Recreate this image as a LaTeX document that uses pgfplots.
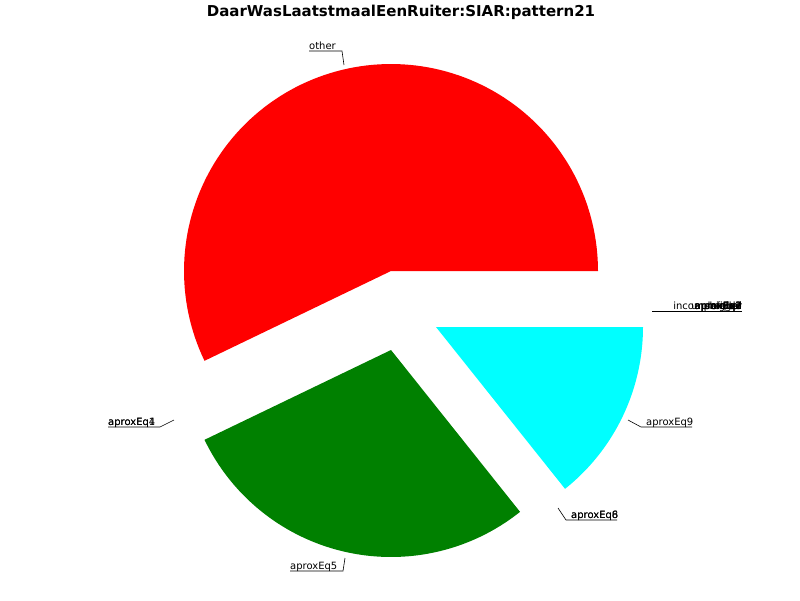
\documentclass[border=0pt]{standalone}
\usepackage{pgfplots}
\pgfplotsset{compat=1.18}
\usepackage{fontspec}
\setmainfont{DejaVu Sans}
\definecolor{pieGreen}{RGB}{0,128,0}
\definecolor{pieCyan}{RGB}{0,255,255}
\begin{document}
\begin{tikzpicture}
% slice values: other, aproxEq5, aproxEq9 (the other labels have zero size)
\def\vA{4}\def\vB{2}\def\vC{1}
\pgfmathsetmacro{\aA}{360*\vA/(\vA+\vB+\vC)}
\pgfmathsetmacro{\aB}{\aA+360*\vB/(\vA+\vB+\vC)}
\begin{axis}[
  width=800pt, height=600pt, scale only axis,
  xmin=0, xmax=800, ymin=0, ymax=600,
  y dir=reverse, hide axis, clip=false,
  every node/.style={font=\fontsize{9.6}{11}\selectfont},
]
\path (axis cs:0,0) rectangle (axis cs:800,600);
% red slice (not exploded), centre 391,271, radius 207
\addplot[fill=red, draw=none, domain=0:\aA, samples=120]
  ({391+207*cos(x)}, {271-207*sin(x)}) -- (axis cs:391,271) -- cycle;
% green slice, centre 391,350
\addplot[fill=pieGreen, draw=none, domain=\aA:\aB, samples=80]
  ({391+207*cos(x)}, {350-207*sin(x)}) -- (axis cs:391,350) -- cycle;
% cyan slice, centre 436,327
\addplot[fill=pieCyan, draw=none, domain=\aB:360, samples=50]
  ({436+207*cos(x)}, {327-207*sin(x)}) -- (axis cs:436,327) -- cycle;

% title
\node[font=\fontsize{15}{17}\selectfont\bfseries] at (axis cs:401,12) {DaarWasLaatstmaalEenRuiter:SIAR:pattern21};

% labels with leader lines
\draw[black, line width=0.6pt] (axis cs:344,65) -- (axis cs:342,51) -- (axis cs:309,51);
\node[anchor=base west, inner sep=0pt] at (axis cs:309,49) {other};

\draw[black, line width=0.6pt] (axis cs:174,420) -- (axis cs:160,427) -- (axis cs:108,427);
\node[anchor=base west, inner sep=0pt] at (axis cs:108,425) {aproxEq1};
\node[anchor=base west, inner sep=0pt] at (axis cs:108,425) {aproxEq4};

\draw[black, line width=0.6pt] (axis cs:345,558) -- (axis cs:343,571) -- (axis cs:290,571);
\node[anchor=base west, inner sep=0pt] at (axis cs:290,569) {aproxEq5};

\draw[black, line width=0.6pt] (axis cs:558,508) -- (axis cs:566,520) -- (axis cs:617,520);
\node[anchor=base west, inner sep=0pt] at (axis cs:571,518) {aproxEq6};
\node[anchor=base west, inner sep=0pt] at (axis cs:571,518) {aproxEq8};

\draw[black, line width=0.6pt] (axis cs:628,420) -- (axis cs:641,427) -- (axis cs:692,427);
\node[anchor=base west, inner sep=0pt] at (axis cs:646,425) {aproxEq9};

\draw[black, line width=0.6pt] (axis cs:652,311) -- (axis cs:742,311);
\node[anchor=base east, inner sep=0pt] at (axis cs:742,309) {bigger};
\node[anchor=base east, inner sep=0pt] at (axis cs:742,309) {smaller};
\node[anchor=base east, inner sep=0pt] at (axis cs:742,309) {equal};
\node[anchor=base east, inner sep=0pt] at (axis cs:742,309) {aproxEq2};
\node[anchor=base east, inner sep=0pt] at (axis cs:742,309) {aproxEq3};
\node[anchor=base east, inner sep=0pt] at (axis cs:742,309) {aproxEq7};
\node[anchor=base east, inner sep=0pt] at (axis cs:742,309) {undefined};
\node[anchor=base east, inner sep=0pt] at (axis cs:742,309) {incomparable};
\end{axis}
\end{tikzpicture}
\end{document}
